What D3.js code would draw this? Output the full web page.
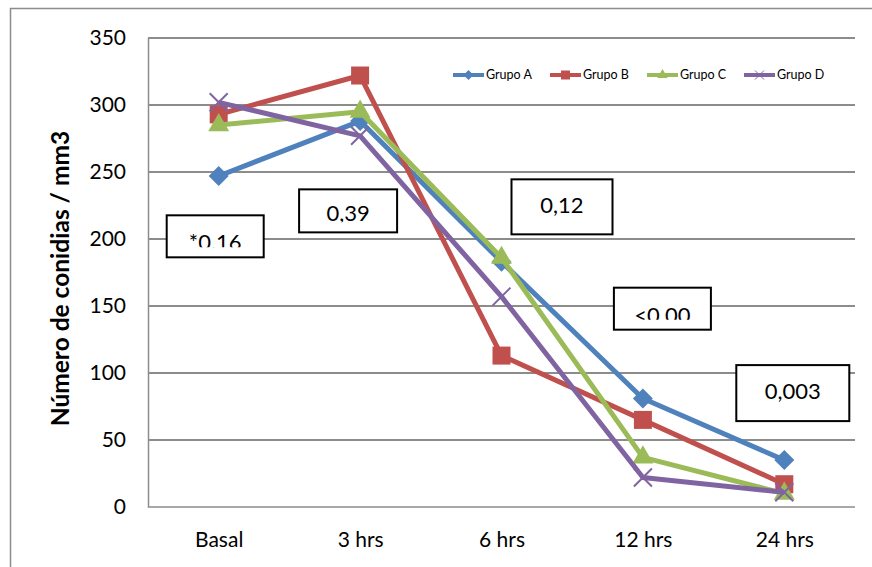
<!DOCTYPE html>
<html>
<head>
<meta charset="utf-8">
<script src="https://cdn.jsdelivr.net/npm/d3@7"></script>
<style>
  body { margin: 0; background: #fff; }
  svg { display: block; }
  svg text { font-family: Lato, "Open Sans", sans-serif; }
</style>
</head>
<body>
<div id="chart"></div>
<script>
var categories = ["Basal", "3 hrs", "6 hrs", "12 hrs", "24 hrs"];
var yTicks = [0, 50, 100, 150, 200, 250, 300, 350];
var seriesNames = ["Grupo A", "Grupo B", "Grupo C", "Grupo D"];
var grupoA = [247, 288, 183, 81, 35];
var grupoB = [293, 322, 113, 65, 17];
var grupoC = [285, 295, 186, 37, 10];
var grupoD = [302, 277, 157, 22, 11];
var colors = ["#4F81BD", "#C0504D", "#9BBB59", "#8064A2"];
var markers = ["diamond", "square", "triangle", "cross"];
var pLabels = ["*0.16", "0,39", "0,12", "<0.00", "0,003"];
var pValues = [202, 221, 224, 148, 85]; // vertical box centre in data units (approx)

var series = [grupoA, grupoB, grupoC, grupoD];

var W = 872, H = 567;
var margin = {top: 38, right: 17, bottom: 60, left: 148};
var width = W - margin.left - margin.right,
    height = H - margin.top - margin.bottom;

var svg = d3.select("#chart").append("svg")
    .attr("width", W).attr("height", H);

// outer frame
svg.append("path")
    .attr("d", "M10.5," + H + "V8.5H" + W)
    .attr("fill", "none").attr("stroke", "#8c8c8c").attr("stroke-width", 1.5);

var g = svg.append("g")
    .attr("transform", "translate(" + margin.left + "," + margin.top + ")");

var x = d3.scalePoint().domain(categories).range([0, width]).padding(0.5);
var y = d3.scaleLinear().domain([0, 350]).range([height, 0]);

// gridlines
g.selectAll(".grid").data(yTicks.filter(d => d > 0)).enter().append("line")
    .attr("x1", 0).attr("x2", width)
    .attr("y1", d => y(d)).attr("y2", d => y(d))
    .attr("stroke", "#8c8c8c").attr("stroke-width", 2);

// axes
var yAxis = g.append("g").call(d3.axisLeft(y).tickValues(yTicks).tickSize(0).tickPadding(22));
yAxis.attr("font-family", null);
yAxis.select(".domain").remove();
yAxis.selectAll("text").attr("font-size", 21).attr("fill", "#000");

var xAxis = g.append("g").attr("transform", "translate(0," + height + ")")
    .call(d3.axisBottom(x).tickSize(0).tickPadding(25));
xAxis.attr("font-family", null);
xAxis.select(".domain").remove();
xAxis.selectAll("text").attr("font-size", 21).attr("fill", "#000");

g.append("path")
    .attr("d", "M0.5,0V" + height + "H" + width)
    .attr("fill", "none").attr("stroke", "#8c8c8c").attr("stroke-width", 1.5);

// y title
svg.append("text")
    .attr("transform", "translate(69," + (margin.top + height / 2 + 6) + ") rotate(-90)")
    .attr("text-anchor", "middle")
    .attr("font-size", 24.5).attr("font-weight", "bold")
    .text("Número de conidias / mm3");

// p-value boxes (text is cut off at the bottom like in the original)
var boxW = [97, 98, 101, 97, 113], boxH = [42, 43, 55, 42, 56];
var boxX = [-52, -61, 10, -29, -48];
var textY = [35, 32, 34, 35, 34];
var clipH = [32, 33, 55, 32, 56];
pLabels.forEach(function(lab, i) {
    var cx = x(categories[i]) + boxX[i];
    var cy = y(pValues[i]);
    var bg = g.append("g").attr("transform", "translate(" + cx + "," + (cy - boxH[i] / 2) + ")");
    var clipId = "clip" + i;
    bg.append("clipPath").attr("id", clipId).append("rect")
        .attr("x", 0).attr("y", 0).attr("width", boxW[i]).attr("height", clipH[i]);
    bg.append("rect").attr("width", boxW[i]).attr("height", boxH[i])
        .attr("fill", "#fff").attr("stroke", "#000").attr("stroke-width", 2);
    bg.append("text").attr("clip-path", "url(#" + clipId + ")")
        .attr("x", boxW[i] / 2).attr("y", textY[i])
        .attr("text-anchor", "middle").attr("font-size", 22)
        .text(lab);
});

function marker(sel, type, color) {
    if (type === "diamond") {
        sel.append("path").attr("d", "M0,-10L10,0L0,10L-10,0Z")
            .attr("fill", color);
    } else if (type === "square") {
        sel.append("rect").attr("x", -9).attr("y", -9).attr("width", 18).attr("height", 18)
            .attr("fill", color);
    } else if (type === "triangle") {
        sel.append("path").attr("d", d3.symbol(d3.symbolTriangle, 190)())
            .attr("fill", color);
    } else {
        sel.append("path").attr("d", "M-9,-9L9,9M-9,9L9,-9")
            .attr("stroke", color).attr("stroke-width", 2);
    }
}

var line = d3.line().x((d, i) => x(categories[i])).y(d => y(d));

series.forEach(function(vals, s) {
    g.append("path").datum(vals).attr("d", line)
        .attr("fill", "none").attr("stroke", colors[s]).attr("stroke-width", 5)
        .attr("stroke-linejoin", "round");
    vals.forEach(function(v, i) {
        var m = g.append("g").attr("transform", "translate(" + x(categories[i]) + "," + y(v) + ")");
        marker(m, markers[s], colors[s]);
    });
});

// legend
var legX = [453, 550, 647, 744];
seriesNames.forEach(function(name, s) {
    var lg = svg.append("g").attr("transform", "translate(" + legX[s] + ",75)");
    lg.append("line").attr("x1", 0).attr("x2", 31).attr("y1", 0).attr("y2", 0)
        .attr("stroke", colors[s]).attr("stroke-width", 4);
    var m = lg.append("g").attr("transform", "translate(15.5,0) scale(0.5)");
    marker(m, markers[s], colors[s]);
    lg.append("text").attr("x", 33).attr("y", 4).attr("font-size", 12.5).text(name);
});
</script>
</body>
</html>
